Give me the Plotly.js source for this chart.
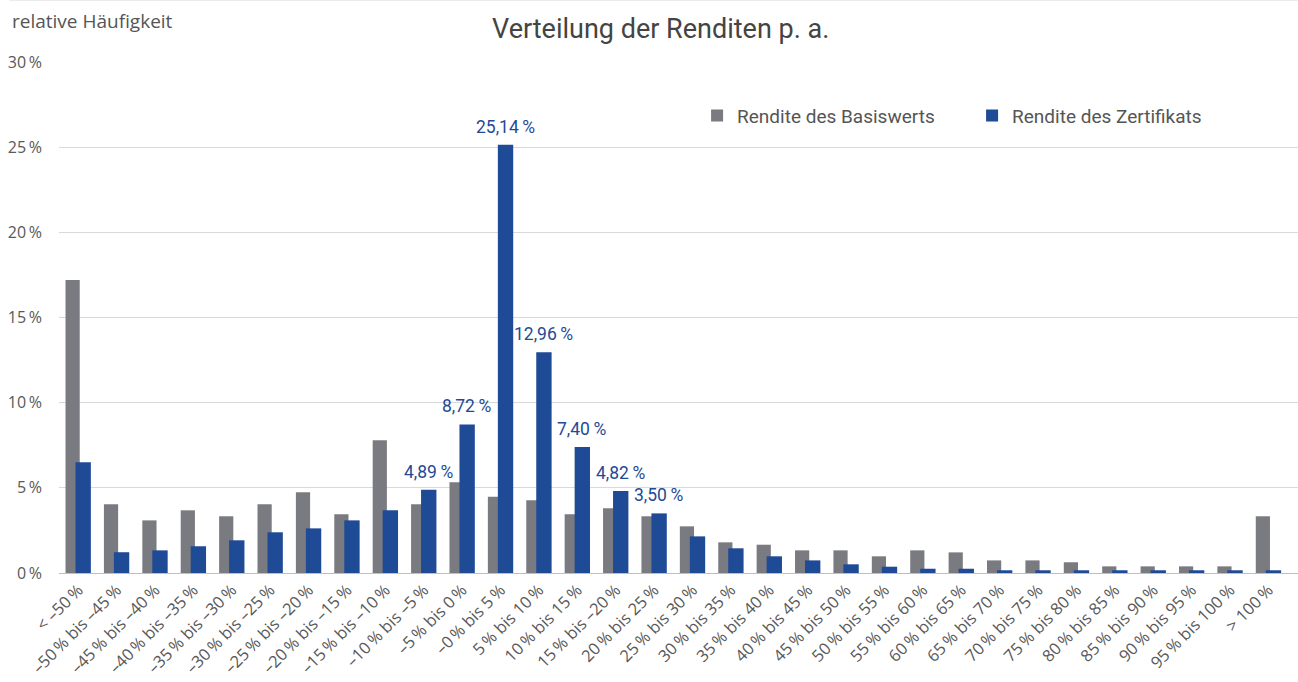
<!DOCTYPE html>
<html>
<head>
<meta charset="utf-8">
<script src="https://cdn.plot.ly/plotly-3.0.1.min.js"></script>
<style>
html,body{margin:0;padding:0;background:#fff;}
#chart{width:1298px;height:682px;}
</style>
</head>
<body>
<div id="chart"></div>
<script>
var S = '\u2009';
var categories = [
  '< –50'+S+'%', '–50'+S+'% bis –45'+S+'%', '–45'+S+'% bis –40'+S+'%', '–40'+S+'% bis –35'+S+'%',
  '–35'+S+'% bis –30'+S+'%', '–30'+S+'% bis –25'+S+'%', '–25'+S+'% bis –20'+S+'%', '–20'+S+'% bis –15'+S+'%',
  '–15'+S+'% bis –10'+S+'%', '–10'+S+'% bis –5'+S+'%', '–5'+S+'% bis 0'+S+'%', '–0'+S+'% bis 5'+S+'%',
  '5'+S+'% bis 10'+S+'%', '10'+S+'% bis 15'+S+'%', '15'+S+'% bis –20'+S+'%', '20'+S+'% bis 25'+S+'%',
  '25'+S+'% bis 30'+S+'%', '30'+S+'% bis 35'+S+'%', '35'+S+'% bis 40'+S+'%', '40'+S+'% bis 45'+S+'%',
  '45'+S+'% bis 50'+S+'%', '50'+S+'% bis 55'+S+'%', '55'+S+'% bis 60'+S+'%', '60'+S+'% bis 65'+S+'%',
  '65'+S+'% bis 70'+S+'%', '70'+S+'% bis 75'+S+'%', '75'+S+'% bis 80'+S+'%', '80'+S+'% bis 85'+S+'%',
  '85'+S+'% bis 90'+S+'%', '90'+S+'% bis 95'+S+'%', '95'+S+'% bis 100'+S+'%', '> 100'+S+'%'
];
var basiswert = [17.2, 4.03, 3.09, 3.68, 3.33, 4.03, 4.74, 3.45, 7.79, 4.03, 5.33, 4.48,
  4.27, 3.45, 3.80, 3.33, 2.74, 1.80, 1.66, 1.33, 1.33, 0.98, 1.33, 1.21,
  0.74, 0.74, 0.63, 0.39, 0.39, 0.39, 0.39, 3.33];
var zertifikat = [6.50, 1.22, 1.33, 1.57, 1.92, 2.39, 2.62, 3.09, 3.68, 4.89, 8.72, 25.14,
  12.96, 7.40, 4.82, 3.50, 2.15, 1.45, 0.98, 0.74, 0.51, 0.37, 0.25, 0.25,
  0.16, 0.16, 0.16, 0.16, 0.16, 0.16, 0.16, 0.16];
var labeledIdx = [9, 10, 11, 12, 13, 14, 15];
var yTickVals = [0, 5, 10, 15, 20, 25, 30];
var yTickText = ['0'+S+'%', '5'+S+'%', '10'+S+'%', '15'+S+'%', '20'+S+'%', '25'+S+'%', '30'+S+'%'];

var GRAY = '#7a7b80', BLUE = '#1f4a96';
var gOff = -0.33, gW = 0.37, bOff = -0.07, bW = 0.40;

var traces = [
  {type:'bar', name:'Rendite des Basiswerts', x:categories, y:basiswert,
   marker:{color:GRAY}, offset:gOff, width:gW, hoverinfo:'x+y'},
  {type:'bar', name:'Rendite des Zertifikats', x:categories, y:zertifikat,
   marker:{color:BLUE}, offset:bOff, width:bW, hoverinfo:'x+y'}
];

var annotations = labeledIdx.map(function(i){
  return {xref:'x', yref:'y', x:i + bOff + bW/2, y:zertifikat[i], yanchor:'bottom', xanchor:'center',
    yshift:6, showarrow:false, text:zertifikat[i].toFixed(2).replace('.', ',') + S + '%',
    font:{family:'Roboto, sans-serif', size:17.5, color:BLUE}};
});
annotations.push({xref:'paper', yref:'paper', x:-0.0395, y:1.051, xanchor:'left', yanchor:'bottom',
  showarrow:false, text:'relative Häufigkeit',
  font:{family:'Open Sans, sans-serif', size:19, color:'#555'}});

var layout = {
  width:1298, height:682,
  margin:{l:59, r:0, t:62, b:109},
  paper_bgcolor:'#fff', plot_bgcolor:'#fff',
  barmode:'overlay',
  title:{text:'Verteilung der Renditen p. a.', x:0.509, xref:'container', xanchor:'center',
    y:0.958, yanchor:'middle',
    font:{family:'Roboto, sans-serif', size:27, color:'#444'}},
  showlegend:true,
  legend:{orientation:'h', x:0.515, y:0.932, xanchor:'left', yanchor:'top',
    entrywidth:230, entrywidthmode:'pixels', bgcolor:'rgba(0,0,0,0)',
    font:{family:'Roboto, sans-serif', size:19, color:'#555'}},
  xaxis:{type:'category', range:[-0.5, 31.77], tickangle:-45, showgrid:false,
    showline:true, linecolor:'#bfbfbf', linewidth:1, ticks:'',
    tickfont:{family:'Open Sans, sans-serif', size:16.5, color:'#595959'}},
  yaxis:{range:[0, 30], tickvals:yTickVals, ticktext:yTickText, showgrid:true,
    gridcolor:'#d9d9d9', gridwidth:1, zeroline:false, showline:false, ticks:'',
    ticklabelstandoff:16,
    tickfont:{family:'Open Sans, sans-serif', size:16, color:'#595959'}},
  shapes:[{type:'line', xref:'paper', yref:'paper', x0:-0.04, x1:1, y0:1.1213, y1:1.1213,
    line:{color:'#d9d9d9', width:1}}],
  annotations:annotations
};

Plotly.newPlot('chart', traces, layout, {displayModeBar:false, staticPlot:true});
</script>
</body>
</html>
